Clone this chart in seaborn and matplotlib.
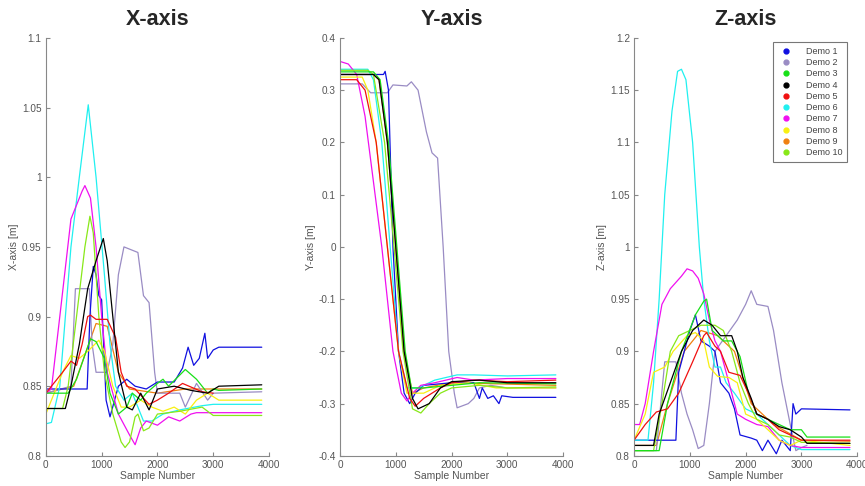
import numpy as np
import pandas as pd
import matplotlib
matplotlib.use("Agg")
import matplotlib.pyplot as plt
from matplotlib.lines import Line2D
import seaborn as sns

# ===== colours / names =====
demos = ["Demo 1", "Demo 2", "Demo 3", "Demo 4", "Demo 5",
         "Demo 6", "Demo 7", "Demo 8", "Demo 9", "Demo 10"]
colors = ["#1010e0", "#9a8cc4", "#18e018", "#000000", "#f01010",
          "#20f0f0", "#f010f0", "#f8f010", "#f08010", "#88e818"]

# ===== X-axis keypoints (sample, value) =====
x_d1 = ([0, 740, 790, 850, 900, 950, 1000, 1080, 1150, 1300, 1450, 1600, 1800, 2000, 2300, 2450, 2550, 2650, 2750, 2850, 2900, 3000, 3100, 3870],
        [0.848, 0.848, 0.90, 0.936, 0.93, 0.915, 0.912, 0.84, 0.828, 0.85, 0.855, 0.85, 0.848, 0.853, 0.853, 0.863, 0.878, 0.865, 0.87, 0.888, 0.87, 0.876, 0.878, 0.878])
x_d2 = ([0, 450, 530, 780, 830, 900, 1100, 1200, 1300, 1400, 1650, 1750, 1850, 1950, 2000, 2400, 2500, 2700, 2900, 3000, 3870],
        [0.845, 0.85, 0.92, 0.92, 0.88, 0.86, 0.86, 0.88, 0.93, 0.95, 0.946, 0.915, 0.91, 0.86, 0.845, 0.845, 0.835, 0.852, 0.84, 0.845, 0.846])
x_d3 = ([0, 400, 550, 800, 900, 1050, 1150, 1300, 1450, 1550, 1700, 1800, 2000, 2100, 2200, 2400, 2500, 2700, 2900, 3000, 3100, 3870],
        [0.845, 0.845, 0.855, 0.884, 0.882, 0.87, 0.845, 0.83, 0.835, 0.845, 0.84, 0.845, 0.852, 0.855, 0.85, 0.858, 0.862, 0.855, 0.845, 0.848, 0.847, 0.848])
x_d4 = ([0, 350, 450, 600, 750, 900, 1030, 1100, 1200, 1300, 1450, 1550, 1700, 1850, 2000, 2300, 2600, 2900, 3100, 3870],
        [0.834, 0.834, 0.85, 0.88, 0.92, 0.94, 0.956, 0.94, 0.90, 0.86, 0.835, 0.833, 0.845, 0.833, 0.848, 0.85, 0.847, 0.845, 0.85, 0.851])
x_d5 = ([0, 300, 450, 550, 650, 750, 800, 900, 1100, 1250, 1350, 1450, 1600, 1850, 2000, 2200, 2450, 2800, 3000],
        [0.845, 0.86, 0.868, 0.865, 0.88, 0.90, 0.901, 0.898, 0.898, 0.885, 0.86, 0.85, 0.848, 0.837, 0.84, 0.845, 0.852, 0.846, 0.845])
x_d6 = ([0, 100, 250, 450, 600, 760, 900, 1050, 1150, 1250, 1400, 1550, 1750, 1900, 2100, 2400, 2800, 3000, 3870],
        [0.823, 0.824, 0.85, 0.95, 1.0, 1.052, 1.0, 0.93, 0.88, 0.85, 0.84, 0.845, 0.825, 0.825, 0.83, 0.833, 0.836, 0.837, 0.837])
x_d7 = ([0, 100, 250, 450, 650, 700, 800, 900, 1000, 1100, 1300, 1500, 1600, 1700, 1800, 2000, 2200, 2400, 2600, 2700, 3870],
        [0.845, 0.848, 0.90, 0.97, 0.99, 0.994, 0.985, 0.95, 0.90, 0.86, 0.83, 0.815, 0.808, 0.82, 0.825, 0.822, 0.828, 0.825, 0.83, 0.831, 0.831])
x_d8 = ([0, 300, 450, 600, 750, 950, 1050, 1200, 1350, 1500, 1700, 1900, 2100, 2300, 2500, 2700, 2900, 3100, 3870],
        [0.83, 0.86, 0.872, 0.87, 0.875, 0.883, 0.875, 0.85, 0.835, 0.835, 0.84, 0.835, 0.832, 0.835, 0.83, 0.84, 0.845, 0.84, 0.84])
x_d9 = ([0, 500, 900, 1100, 1300, 1500, 2000, 2500, 3870],
        [0.845, 0.85, 0.895, 0.893, 0.86, 0.848, 0.845, 0.848, 0.848])
x_d10 = ([0, 300, 400, 550, 700, 790, 850, 950, 1050, 1200, 1350, 1420, 1500, 1600, 1650, 1750, 1850, 2000, 2400, 2800, 3000, 3870],
         [0.834, 0.834, 0.85, 0.90, 0.95, 0.972, 0.96, 0.90, 0.86, 0.83, 0.81, 0.806, 0.81, 0.828, 0.83, 0.818, 0.82, 0.83, 0.832, 0.835, 0.829, 0.829])

# ===== Y-axis keypoints =====
y_d1 = ([0, 780, 810, 870, 950, 1050, 1150, 1250, 1350, 1500, 2000, 2400, 2500, 2550, 2650, 2750, 2850, 2900, 3100, 3870],
        [0.33, 0.33, 0.336, 0.30, 0.0, -0.20, -0.28, -0.30, -0.28, -0.265, -0.26, -0.26, -0.29, -0.27, -0.29, -0.285, -0.30, -0.285, -0.288, -0.288])
y_d2 = ([0, 400, 550, 850, 950, 1200, 1280, 1400, 1550, 1650, 1750, 1850, 1950, 2050, 2100, 2300, 2400, 2500, 2700, 3000, 3870],
        [0.312, 0.312, 0.295, 0.295, 0.31, 0.308, 0.316, 0.30, 0.22, 0.18, 0.17, 0.0, -0.20, -0.28, -0.308, -0.30, -0.29, -0.27, -0.265, -0.27, -0.27])
y_d3 = ([0, 600, 720, 870, 1020, 1170, 1280, 1500, 2000, 2500, 3870],
        [0.335, 0.335, 0.32, 0.20, 0.0, -0.20, -0.27, -0.27, -0.265, -0.26, -0.262])
y_d4 = ([0, 600, 700, 850, 1000, 1150, 1300, 1400, 1600, 1800, 2000, 2500, 3000, 3870],
        [0.33, 0.33, 0.32, 0.20, 0.0, -0.20, -0.29, -0.31, -0.30, -0.27, -0.258, -0.255, -0.26, -0.26])
y_d5 = ([0, 300, 450, 650, 850, 1050, 1250, 1350, 1500, 1800, 2000, 2400, 3000, 3870],
        [0.32, 0.32, 0.30, 0.20, 0.0, -0.20, -0.29, -0.305, -0.29, -0.27, -0.26, -0.255, -0.258, -0.255])
y_d6 = ([0, 500, 600, 750, 900, 1050, 1200, 1400, 1700, 2100, 2400, 3000, 3870],
        [0.34, 0.34, 0.32, 0.20, 0.0, -0.20, -0.27, -0.27, -0.255, -0.245, -0.245, -0.247, -0.245])
y_d7 = ([0, 150, 300, 450, 750, 950, 1100, 1200, 1300, 1450, 1700, 2100, 2400, 3000, 3870],
        [0.355, 0.35, 0.33, 0.25, 0.0, -0.20, -0.28, -0.295, -0.28, -0.265, -0.26, -0.25, -0.255, -0.252, -0.252])
y_d8 = ([0, 400, 500, 650, 850, 1050, 1200, 1500, 1800, 2300, 2800, 3870],
        [0.325, 0.325, 0.30, 0.20, 0.0, -0.20, -0.28, -0.28, -0.265, -0.26, -0.27, -0.27])
y_d9 = ([0, 600, 700, 850, 1000, 1150, 1300, 1500, 2000, 3870],
        [0.33, 0.33, 0.32, 0.20, 0.0, -0.20, -0.28, -0.27, -0.26, -0.265])
y_d10 = ([0, 500, 600, 800, 970, 1130, 1300, 1450, 1600, 1800, 2000, 2500, 3000, 3870],
         [0.338, 0.338, 0.33, 0.20, 0.0, -0.20, -0.31, -0.318, -0.30, -0.28, -0.27, -0.265, -0.27, -0.268])

# ===== Z-axis keypoints =====
z_d1 = ([0, 750, 800, 900, 1000, 1100, 1200, 1350, 1450, 1550, 1700, 1800, 1900, 2100, 2200, 2300, 2400, 2550, 2650, 2800, 2850, 2900, 3000, 3870],
        [0.815, 0.815, 0.88, 0.90, 0.92, 0.935, 0.91, 0.905, 0.90, 0.87, 0.86, 0.845, 0.82, 0.817, 0.815, 0.805, 0.815, 0.802, 0.815, 0.805, 0.85, 0.84, 0.845, 0.844])
z_d2 = ([0, 400, 550, 750, 850, 950, 1050, 1150, 1250, 1350, 1450, 1650, 1850, 2000, 2100, 2200, 2400, 2500, 2650, 2800, 2900, 3000, 3100],
        [0.805, 0.805, 0.89, 0.89, 0.86, 0.84, 0.825, 0.807, 0.81, 0.85, 0.90, 0.915, 0.93, 0.945, 0.958, 0.945, 0.943, 0.92, 0.87, 0.83, 0.805, 0.808, 0.81])
z_d3 = ([0, 450, 600, 850, 1100, 1250, 1300, 1400, 1600, 1750, 1900, 2050, 2200, 2400, 2600, 2800, 3000, 3100, 3870],
        [0.805, 0.805, 0.85, 0.90, 0.935, 0.948, 0.95, 0.92, 0.91, 0.91, 0.895, 0.86, 0.84, 0.835, 0.83, 0.825, 0.825, 0.818, 0.818])
z_d4 = ([0, 350, 450, 650, 850, 1050, 1250, 1400, 1550, 1750, 1850, 1950, 2100, 2200, 2400, 2600, 2800, 3000, 3100, 3870],
        [0.81, 0.81, 0.84, 0.87, 0.90, 0.92, 0.93, 0.925, 0.915, 0.915, 0.90, 0.875, 0.855, 0.84, 0.835, 0.828, 0.825, 0.818, 0.812, 0.812])
z_d5 = ([0, 200, 400, 600, 800, 1050, 1250, 1300, 1450, 1550, 1700, 1900, 2050, 2200, 2400, 2600, 2800, 3000, 3870],
        [0.815, 0.83, 0.842, 0.845, 0.86, 0.89, 0.915, 0.918, 0.905, 0.90, 0.88, 0.877, 0.86, 0.84, 0.835, 0.825, 0.82, 0.815, 0.815])
z_d6 = ([0, 250, 350, 450, 550, 680, 780, 850, 930, 1050, 1170, 1250, 1350, 1450, 1550, 1650, 1800, 2000, 2200, 2400, 2600, 2800, 3000, 3870],
        [0.815, 0.815, 0.87, 0.95, 1.05, 1.13, 1.168, 1.17, 1.16, 1.10, 1.0, 0.95, 0.91, 0.885, 0.885, 0.87, 0.86, 0.845, 0.84, 0.83, 0.82, 0.81, 0.806, 0.806])
z_d7 = ([0, 100, 200, 350, 500, 650, 850, 950, 1050, 1150, 1250, 1350, 1450, 1550, 1650, 1750, 1850, 2000, 2200, 2400, 2600, 2800, 3000, 3870],
        [0.83, 0.83, 0.85, 0.90, 0.945, 0.96, 0.972, 0.979, 0.977, 0.97, 0.955, 0.93, 0.91, 0.90, 0.88, 0.86, 0.84, 0.835, 0.83, 0.828, 0.815, 0.81, 0.808, 0.808])
z_d8 = ([0, 200, 350, 550, 700, 950, 1100, 1250, 1350, 1500, 1700, 1850, 2000, 2200, 2400, 2600, 2800, 3000, 3870],
        [0.815, 0.84, 0.88, 0.885, 0.90, 0.915, 0.918, 0.91, 0.885, 0.876, 0.875, 0.87, 0.84, 0.835, 0.825, 0.815, 0.81, 0.815, 0.81])
z_d9 = ([0, 400, 600, 900, 1200, 1500, 1800, 2100, 2500, 3000, 3870],
        [0.81, 0.81, 0.85, 0.90, 0.92, 0.915, 0.90, 0.85, 0.83, 0.815, 0.814])
z_d10 = ([0, 350, 500, 650, 800, 1000, 1200, 1450, 1600, 1750, 1900, 2050, 2200, 2400, 2600, 2800, 3000, 3870],
         [0.805, 0.805, 0.85, 0.90, 0.915, 0.92, 0.925, 0.925, 0.92, 0.90, 0.87, 0.85, 0.835, 0.83, 0.82, 0.818, 0.813, 0.812])

panels = [
    ("X-axis", "X-axis [m]", [x_d1, x_d2, x_d3, x_d4, x_d5, x_d6, x_d7, x_d8, x_d9, x_d10],
     (0.8, 1.1), [0.8, 0.85, 0.9, 0.95, 1.0, 1.05, 1.1], ["0.8", "0.85", "0.9", "0.95", "1", "1.05", "1.1"]),
    ("Y-axis", "Y-axis [m]", [y_d1, y_d2, y_d3, y_d4, y_d5, y_d6, y_d7, y_d8, y_d9, y_d10],
     (-0.4, 0.4), [-0.4, -0.3, -0.2, -0.1, 0, 0.1, 0.2, 0.3, 0.4], ["-0.4", "-0.3", "-0.2", "-0.1", "0", "0.1", "0.2", "0.3", "0.4"]),
    ("Z-axis", "Z-axis [m]", [z_d1, z_d2, z_d3, z_d4, z_d5, z_d6, z_d7, z_d8, z_d9, z_d10],
     (0.8, 1.2), [0.8, 0.85, 0.9, 0.95, 1.0, 1.05, 1.1, 1.15, 1.2], ["0.8", "0.85", "0.9", "0.95", "1", "1.05", "1.1", "1.15", "1.2"]),
]

sns.set_style("ticks")
plt.rcParams['font.family'] = ['Liberation Sans', 'DejaVu Sans']

fig = plt.figure(figsize=(8.65, 4.86), dpi=100)
lefts = [0.053, 0.393, 0.733]
grey = "#555555"

# demo 9 first so the others sit on top (mostly hidden like in the reference)
order = [8, 1, 0, 5, 6, 7, 9, 2, 4, 3]

for (title, ylab, series, ylim, yt, ytl), left in zip(panels, lefts):
    ax = fig.add_axes([left, 0.062, 0.258, 0.860])
    rows = []
    for i in range(len(demos)):
        s, v = series[i]
        rows.append(pd.DataFrame({"sample": s, "value": v, "demo": demos[i]}))
    df = pd.concat(rows, ignore_index=True)
    for i in order:
        sub = df[df["demo"] == demos[i]]
        sns.lineplot(data=sub, x="sample", y="value", color=colors[i], lw=0.9,
                     sort=False, estimator=None, ax=ax, legend=False)
    ax.set_xlim(0, 4000)
    ax.set_ylim(*ylim)
    ax.set_xticks([0, 1000, 2000, 3000, 4000])
    ax.set_yticks(yt)
    ax.set_yticklabels(ytl)
    ax.tick_params(direction="in", length=3, labelsize=7.2, colors="#888888", labelcolor=grey, pad=3)
    for side in ["top", "right"]:
        ax.spines[side].set_visible(False)
    for side in ["left", "bottom"]:
        ax.spines[side].set_color("#888888")
        ax.spines[side].set_linewidth(0.8)
    ax.set_title(title, fontsize=15.5, fontweight="bold", pad=9)
    ax.set_xlabel("Sample Number", fontsize=7.5, color=grey, labelpad=1)
    ax.set_ylabel(ylab, fontsize=7.5, color=grey, labelpad=2)

handles = [Line2D([], [], ls="none", marker="o", ms=3.5, color=c) for c in colors]
leg = ax.legend(handles, demos, loc="upper right", bbox_to_anchor=(0.975, 1.0), fontsize=6.5,
                frameon=True, fancybox=False, edgecolor="#555555", handletextpad=1.2,
                labelspacing=0.25, borderpad=0.5, labelcolor="#444444")
leg.get_frame().set_linewidth(0.8)

fig.savefig("out.png", dpi=100)
